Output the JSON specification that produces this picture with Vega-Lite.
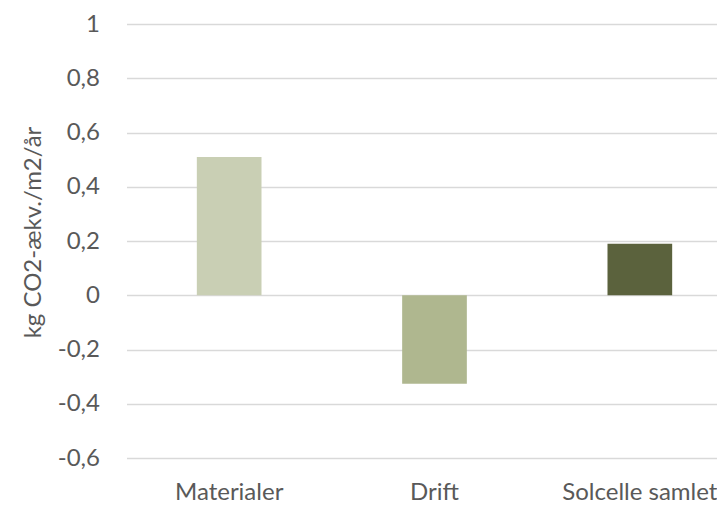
{
  "$schema": "https://vega.github.io/schema/vega-lite/v6.json",
  "autosize": {"type": "none"},
  "padding": {"left": 126.5, "top": 24, "right": 0, "bottom": 49},
  "width": 616,
  "height": 434,
  "background": "white",
  "config": {
    "view": {"stroke": null},
    "font": "Lato",
    "axis": {"labelFont": "Lato", "titleFont": "Lato", "labelColor": "#595959", "titleColor": "#595959"}
  },
  "data": {
    "values": [
      {"kategori": "Materialer", "vaerdi": 0.51},
      {"kategori": "Drift", "vaerdi": -0.326},
      {"kategori": "Solcelle samlet", "vaerdi": 0.19}
    ]
  },
  "mark": {"type": "bar"},
  "encoding": {
    "x": {
      "field": "kategori",
      "type": "nominal",
      "sort": null,
      "scale": {"paddingInner": 0.685, "paddingOuter": 0.3425},
      "axis": {
        "title": null,
        "domain": false,
        "ticks": false,
        "labelAngle": 0,
        "labelFontSize": 24,
        "labelPadding": 22
      }
    },
    "y": {
      "field": "vaerdi",
      "type": "quantitative",
      "scale": {"domain": [-0.6, 1], "nice": false, "zero": false},
      "axis": {
        "title": "kg CO2-ækv./m2/år",
        "titleFontSize": 24,
        "titleFontWeight": "normal",
        "titlePadding": 12,
        "titleY": 208,
        "values": [-0.6, -0.4, -0.2, 0, 0.2, 0.4, 0.6, 0.8, 1],
        "labelExpr": "replace(replace(format(datum.value, '.1~f'), '.', ','), '\u2212', '-')",
        "labelFontSize": 24,
        "labelPadding": 27,
        "ticks": false,
        "domain": false,
        "grid": true,
        "gridColor": "#D9D9D9",
        "gridWidth": 1.5
      }
    },
    "color": {
      "field": "kategori",
      "type": "nominal",
      "scale": {"domain": ["Materialer", "Drift", "Solcelle samlet"], "range": ["#C9CFB4", "#AFB78F", "#5B623D"]},
      "legend": null
    }
  }
}
